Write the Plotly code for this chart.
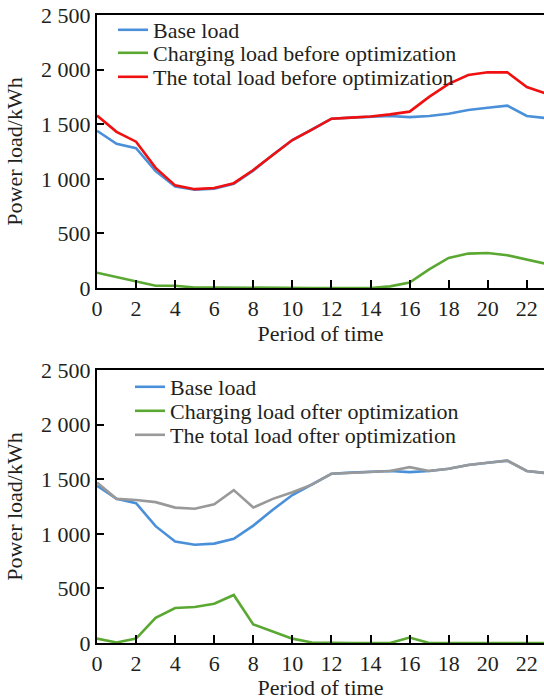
import plotly.graph_objects as go
from plotly.subplots import make_subplots

periods = list(range(24))
base_load = [1440, 1320, 1280, 1070, 930, 900, 910, 955, 1075, 1220, 1355, 1450,
             1550, 1560, 1565, 1575, 1565, 1575, 1595, 1630, 1650, 1670, 1575, 1555]
charging_before = [140, 100, 55, 20, 20, 5, 5, 3, 2, 0, 0, 0,
                   0, 0, 0, 15, 50, 170, 275, 315, 320, 300, 260, 220]
total_before = [1580, 1430, 1340, 1100, 940, 905, 915, 960, 1080, 1220, 1355, 1450,
                1550, 1560, 1570, 1590, 1615, 1750, 1870, 1950, 1975, 1975, 1840, 1780]
charging_after = [40, 5, 40, 230, 320, 330, 360, 440, 170, 105, 40, 5,
                  0, 0, 0, 0, 50, 0, 0, 0, 0, 0, 0, 0]
total_after = [1470, 1320, 1310, 1290, 1240, 1230, 1270, 1400, 1240, 1320, 1380, 1450,
               1550, 1560, 1565, 1575, 1610, 1575, 1595, 1630, 1650, 1670, 1575, 1555]

y_ticks = [0, 500, 1000, 1500, 2000, 2500]
y_tick_text = ["0", "500", "1 000", "1 500", "2 000", "2 500"]
x_ticks = [0, 2, 4, 6, 8, 10, 12, 14, 16, 18, 20, 22]

BLUE = "#4a90d9"
GREEN = "#5aa832"
RED = "#f01010"
GRAY = "#999999"
FONT = "Liberation Serif, Times New Roman, serif"
TXT = "#231f20"
FS = 22

W, H = 544, 700
L = 97
fig = make_subplots(rows=2, cols=1)

# (row, data, name, color, legend id, legend left px, legend row centre px)
series = [
    (1, base_load, "Base load", BLUE, "legend2", 113, 30),
    (1, charging_before, "Charging load before optimization", GREEN, "legend3", 113, 53),
    (1, total_before, "The total load before optimization", RED, "legend4", 113, 77),
    (2, base_load, "Base load", BLUE, "legend5", 130, 387),
    (2, charging_after, "Charging load ofter optimization", GREEN, "legend6", 130, 411),
    (2, total_after, "The total load ofter optimization", GRAY, "legend7", 130, 435),
]

def py(p):
    return 1 - p / H

legends = {}
for row, y, name, color, lg, lx, ly in series:
    fig.add_trace(go.Scatter(x=periods, y=y, mode="lines", name=name,
                             line=dict(color=color, width=2.6),
                             legend=lg, showlegend=True), row=row, col=1)
    legends[lg] = dict(x=(lx - L) / (W - L), y=py(ly), xref="paper", yref="paper",
                       xanchor="left", yanchor="middle", bgcolor="rgba(0,0,0,0)",
                       font=dict(family=FONT, size=FS, color=TXT), itemwidth=30)

xcommon = dict(range=[0, 22.88], tickvals=x_ticks, ticks="inside", ticklen=8,
               tickwidth=2, tickcolor="black", showline=True, linecolor="black",
               linewidth=2, mirror=True, showgrid=False, zeroline=False, automargin=False,
               tickfont=dict(family=FONT, size=FS, color=TXT),
               title=dict(text="Period of time", font=dict(family=FONT, size=FS, color=TXT), standoff=4))
ycommon = dict(range=[0, 2500], tickvals=y_ticks, ticktext=y_tick_text, ticks="inside",
               ticklen=7, tickwidth=2, tickcolor="black", showline=True, linecolor="black",
               linewidth=2, showgrid=False, zeroline=False, automargin=False,
               tickfont=dict(family=FONT, size=FS, color=TXT),
               title=dict(text="Power load/kWh", font=dict(family=FONT, size=FS, color=TXT), standoff=12))

fig.update_xaxes(**xcommon)
fig.update_yaxes(**ycommon)
fig.update_layout(
    width=W, height=H,
    margin=dict(l=L, r=0, t=0, b=0, autoexpand=False),
    plot_bgcolor="white", paper_bgcolor="white",
    font=dict(family=FONT, size=FS, color=TXT),
    yaxis=dict(domain=[py(288), py(15)]),
    yaxis2=dict(domain=[py(643), py(370)]),
    **legends,
)
fig.write_html("out.html", config={"displayModeBar": False},
               post_script="document.body.style.margin='0px';document.body.style.overflow='hidden';")
